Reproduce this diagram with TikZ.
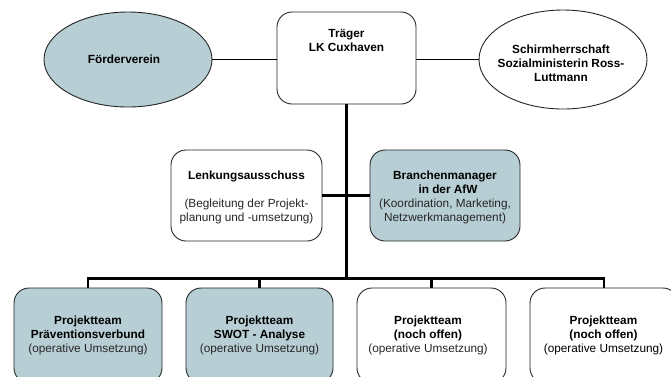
\documentclass[tikz,border=0pt]{standalone}
\usepackage{fontspec}
\setmainfont{Liberation Sans}
\usetikzlibrary{shapes.geometric}
\definecolor{boxfill}{RGB}{183,206,213}
\tikzset{
  txt/.style={font=\fontsize{11.8}{14}\selectfont, align=center, inner sep=0pt},
  rbox/.style={draw=black!85, line width=0.9pt, rounded corners=15pt, inner sep=0pt},
  ebox/.style={ellipse, draw=black!85, line width=0.9pt, inner sep=0pt},
  filled/.style={fill=boxfill},
  thinline/.style={line width=1pt, black},
  thickline/.style={line width=2.7pt, black, line join=miter},
  sub/.style={color=black!85}
}
\begin{document}
\begin{tikzpicture}[x=1pt,y=-1pt]
\useasboundingbox (0,0) rectangle (671,376);
\clip (0,0) rectangle (671,376);
\fill[white] (0,0) rectangle (671,376);

% top row
\node[ebox, filled, minimum width=168pt, minimum height=95pt] (foerder) at (128,59.5) {};
\node[txt] (foerdertxt) at (124,59) {\bfseries Förderverein};

\node[rbox, minimum width=139pt, minimum height=92pt] (traeger) at (346.5,58) {};
\node[txt] (traegertxt) at (346.5,40) {\bfseries Träger\\\bfseries LK Cuxhaven};

\node[ebox, minimum width=168pt, minimum height=99pt] (schirm) at (563,59.5) {};
\node[txt] (schirmtxt) at (561,63) {\bfseries Schirmherrschaft\\\bfseries Sozialministerin Ross-\\\bfseries Luttmann};

% middle row
\node[rbox, minimum width=151pt, minimum height=91pt] (lenk) at (246.5,195.5) {};
\node[txt] (lenktxt) at (246.5,197) {\bfseries Lenkungsausschuss\\[14pt]{\color{black!85}(Begleitung der Projekt-}\\{\color{black!85}planung und -umsetzung)}};

\node[rbox, filled, minimum width=150pt, minimum height=91pt] (branch) at (445,195.5) {};
\node[txt] (branchtxt) at (445,197) {\bfseries Branchenmanager\\\bfseries \hspace{6pt}in der AfW\\{\color{black!85}(Koordination, Marketing,}\\{\color{black!85}Netzwerkmanagement)}};

% bottom row
\node[rbox, filled, minimum width=148pt, minimum height=95pt] (p1) at (88,335.5) {};
\node[txt] (p1txt) at (88,335) {\bfseries Projektteam\\\bfseries Präventionsverbund\\{\color{black!85}(operative Umsetzung)}};

\node[rbox, filled, minimum width=147pt, minimum height=95pt] (p2) at (259.5,335.5) {};
\node[txt] (p2txt) at (259.5,335) {\bfseries Projektteam\\\bfseries SWOT - Analyse\\{\color{black!85}(operative Umsetzung)}};

\node[rbox, minimum width=149pt, minimum height=95pt] (p3) at (431.5,335.5) {};
\node[txt] (p3txt) at (428,335) {\bfseries Projektteam\\\bfseries (noch offen)\\{\color{black!85}(operative Umsetzung)}};

\node[rbox, minimum width=148pt, minimum height=95pt] (p4) at (604,335.5) {};
\node[txt] (p4txt) at (603.5,335) {\bfseries Projektteam\\\bfseries (noch offen)\\(operative Umsetzung)};

% connectors
\draw[thinline] (foerder.east) -- (foerder.east -| traeger.west);
\draw[thinline] (traeger.east |- schirm.west) -- (schirm.west);

\coordinate (bar) at (346.5,278.5);
\draw[thickline] (traeger.south) -- (bar);
\draw[thickline] (lenk.east) -- (branch.west);
\draw[thickline] (p1.north) |- (bar);
\draw[thickline] (p2.north) |- (bar);
\draw[thickline] (p3.north) |- (bar);
\draw[thickline] (p4.north) |- (bar);
\end{tikzpicture}
\end{document}
